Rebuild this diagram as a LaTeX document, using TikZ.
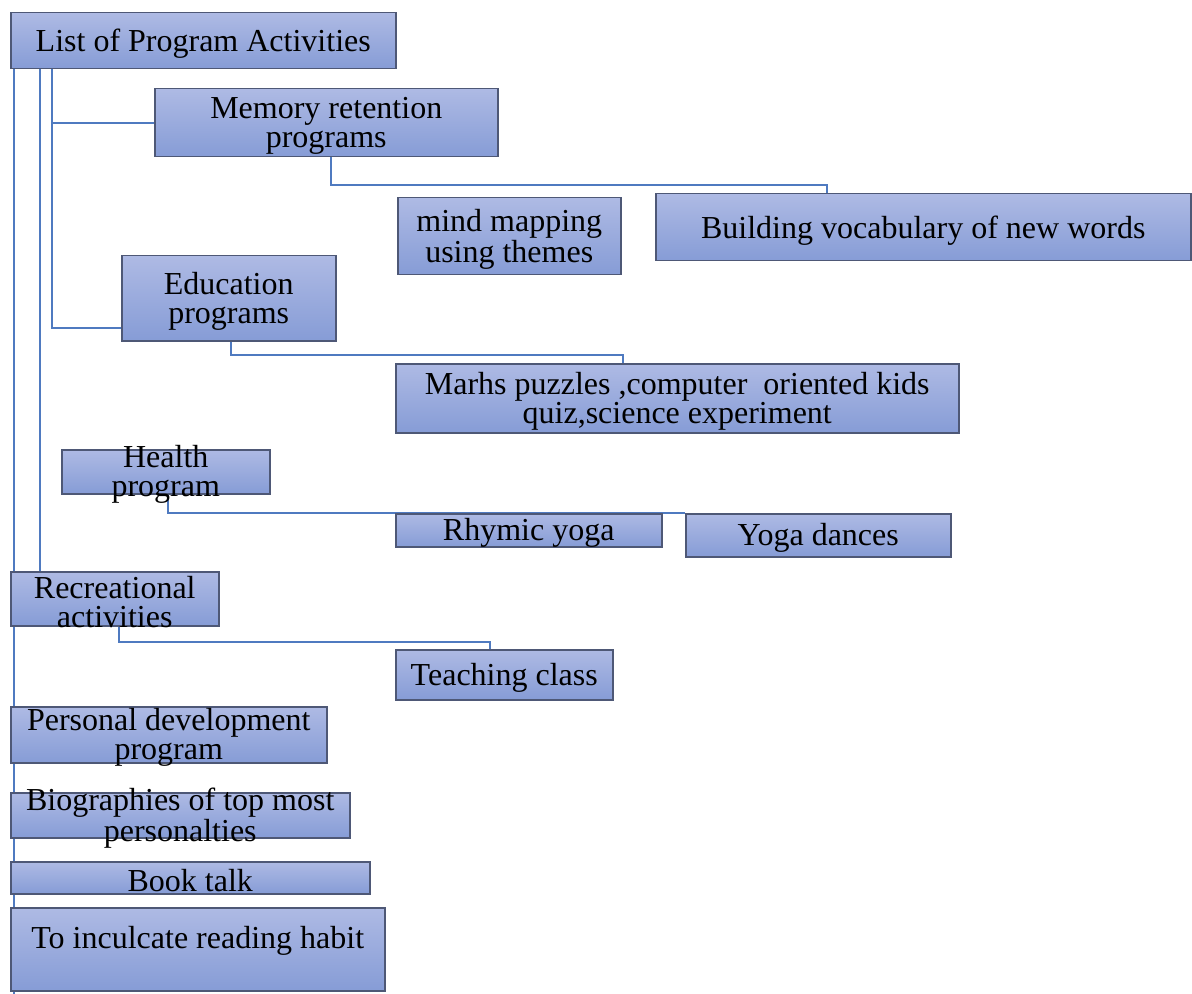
\documentclass[tikz,border=0pt]{standalone}
\usepackage{fontspec}
\setmainfont{Liberation Serif}
\usetikzlibrary{backgrounds}
\definecolor{boxtop}{RGB}{174,186,228}
\definecolor{boxbot}{RGB}{134,156,214}
\definecolor{boxedge}{RGB}{78,88,118}
\definecolor{linkblue}{RGB}{79,122,192}

\begin{document}
\begin{tikzpicture}[
  x=0.5pt, y=-0.5pt,
  actbox/.style={draw=boxedge, line width=0.75pt, top color=boxtop, bottom color=boxbot,
    anchor=north west, inner sep=0pt, label={[boxtext]center:{#1}}},
  boxtext/.style={align=center, inner sep=0pt, yshift=-1.5pt, font=\fontsize{16}{14.5}\selectfont},
  link/.style={draw=linkblue, line width=1pt}
]
\useasboundingbox (0,0) rectangle (1192,994);

\node[actbox={List of Program Activities}, minimum width=192.5pt, minimum height=28pt] (list) at (10,12) {};
\node[actbox={Memory retention\\programs}, minimum width=171.5pt, minimum height=34pt] (mem) at (154,88) {};
\node[actbox={mind mapping\\using themes}, minimum width=111.5pt, minimum height=38.5pt] (mind) at (397,197) {};
\node[actbox={Building vocabulary of new words}, minimum width=267.5pt, minimum height=33.5pt] (vocab) at (655,193) {};
\node[actbox={Education\\programs}, minimum width=107pt, minimum height=42.5pt] (edu) at (121,255) {};
\node[actbox={Marhs puzzles ,computer~ oriented kids\\quiz,science experiment}, minimum width=281.5pt, minimum height=34.5pt] (maths) at (395,363) {};
\node[actbox={Health\\program}, minimum width=104pt, minimum height=22pt] (health) at (61,449) {};
\node[actbox={Rhymic yoga}, minimum width=133pt, minimum height=16.5pt] (rhymic) at (395,513) {};
\node[actbox={Yoga dances}, minimum width=132.5pt, minimum height=21.5pt] (yoga) at (685,513) {};
\node[actbox={Recreational\\activities}, minimum width=104pt, minimum height=27pt] (recr) at (10,571) {};
\node[actbox={Teaching class}, minimum width=108.5pt, minimum height=25pt] (teach) at (395,649) {};
\node[actbox={Personal development\\program}, minimum width=158pt, minimum height=28pt] (persdev) at (10,706) {};
\node[actbox={Biographies of top most\\personalties}, minimum width=169.5pt, minimum height=22.5pt] (bio) at (10,792) {};
\node[actbox={Book talk}, minimum width=179.5pt, minimum height=16pt] (book) at (10,861) {};
\node[actbox={To inculcate reading habit\\~}, minimum width=187pt, minimum height=41.5pt] (habit) at (10,907) {};
\coordinate (trunkend) at (14,994);

\begin{pgfonlayer}{background}
% main stems
\draw[link] ([xshift=2pt]list.south west) -- ([xshift=2pt]list.south west |- trunkend);
\draw[link] ([xshift=15pt]list.south west) -- ([xshift=15pt]list.south west |- recr.north);
\draw[link] ([xshift=21pt]list.south west) |- ([yshift=-15pt]edu.west);
\draw[link] ([xshift=21pt]list.south west |- mem.west) -- (mem.west);
% sub branches
\draw[link] ([xshift=2.25pt]mem.south) -- ++(0,28) -| ([xshift=-48pt]vocab.north);
\draw[link] ([xshift=1pt]edu.south) -- ++(0,13) -| ([xshift=-27pt]maths.north);
\draw[link] ([xshift=1pt]health.south) |- (yoga.north west);
\draw[link] ([xshift=2pt]recr.south) -- ++(0,15) -| ([xshift=-7pt]teach.north);
\end{pgfonlayer}
\end{tikzpicture}
\end{document}
